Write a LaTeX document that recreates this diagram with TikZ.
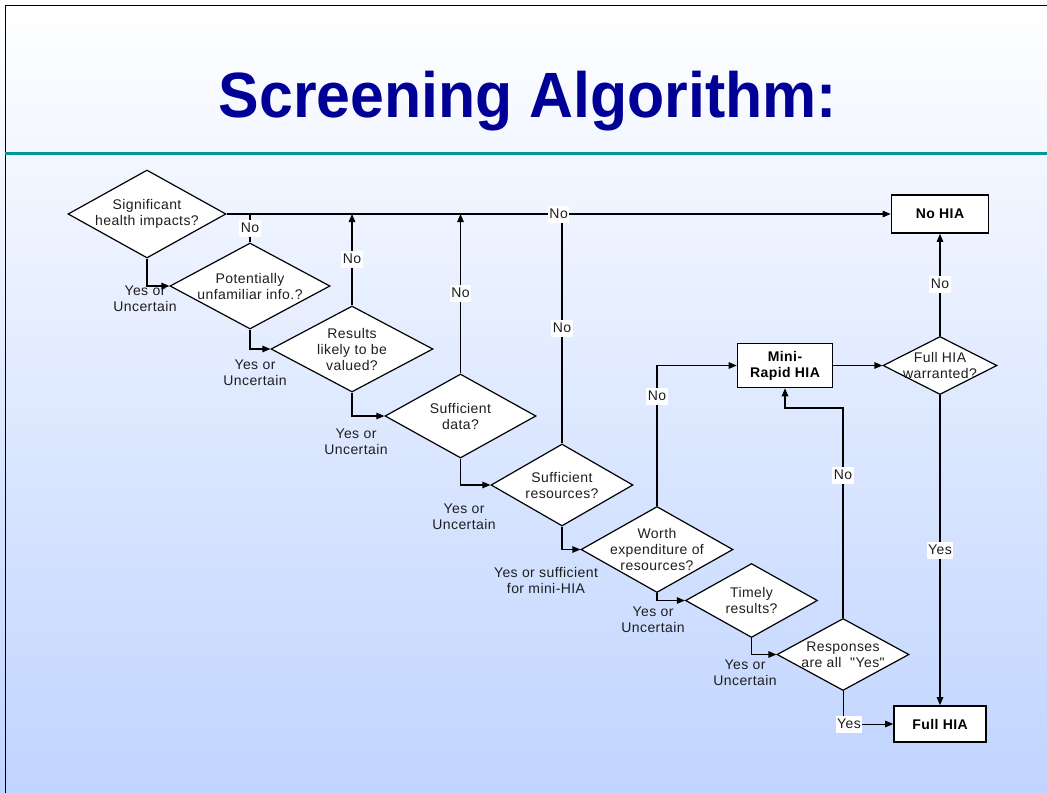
\documentclass[tikz,border=0pt]{standalone}
\usepackage{graphicx}
\usepackage{fontspec}
\setmainfont{Liberation Sans}
\newfontfamily\flowfont[LetterSpace=3]{Liberation Sans}
\usetikzlibrary{shapes.geometric,arrows.meta}

\definecolor{titleblue}{RGB}{0,0,150}
\definecolor{ruleteal}{RGB}{0,150,150}
\definecolor{slidemid}{RGB}{228,235,254}
\definecolor{slidebot}{RGB}{192,212,255}
\definecolor{inkgray}{RGB}{30,30,30}

\tikzset{
	question/.style={diamond, draw=black, fill=white, line width=1.2pt, inner sep=0pt},
	qtext/.style={align=center, text=inkgray, font=\flowfont\fontsize{14}{16}\selectfont},
	outcome/.style={rectangle, draw=black, fill=white, line width=1.6pt, inner sep=0pt, align=center,
		font=\flowfont\fontsize{14}{16}\selectfont\bfseries},
	link/.style={draw=black, line width=1.2pt, -{Triangle[length=8pt,width=6.5pt]}},
	plain/.style={draw=black, line width=1.2pt},
	answer/.style={fill=white, inner sep=1.5pt, text height=11pt, text depth=3pt, text=inkgray,
		font=\flowfont\fontsize{14}{16}\selectfont},
	branch/.style={align=center, text=inkgray, font=\flowfont\fontsize{14}{16}\selectfont}
}

\begin{document}
\begin{tikzpicture}[x=1pt, y=-1pt]
	\useasboundingbox (0,0) rectangle (1047,793);

	% slide background, frame and title
	\shade[top color=white, middle color=slidemid, bottom color=slidebot] (0,0) rectangle (1047,793);
	\draw[line width=1.5pt] (5.5,793) -- (5.5,5.5) -- (1047,5.5);
	\draw[ruleteal, line width=3pt] (5,153.5) -- (1047,153.5);
	\node[anchor=base, text=titleblue, font=\fontsize{64}{70}\selectfont\bfseries] (title) at (528,117)
		{\scalebox{0.95}[1]{Screening Algorithm:}};

	% questions
	\node[question, minimum width=158pt, minimum height=88pt,
		label={[qtext]center:Significant\\health impacts?}] (impacts) at (147,214) {};
	\node[question, minimum width=160pt, minimum height=86pt,
		label={[qtext]center:Potentially\\unfamiliar info.?}] (unfamiliar) at (250,286) {};
	\node[question, minimum width=162pt, minimum height=86pt,
		label={[qtext]center:Results\\likely to be\\valued?}] (valued) at (352,349) {};
	\node[question, minimum width=151pt, minimum height=84pt,
		label={[qtext]center:Sufficient\\data?}] (data) at (460.5,416) {};
	\node[question, minimum width=142pt, minimum height=82pt,
		label={[qtext]center:Sufficient\\resources?}] (resources) at (562,485) {};
	\node[question, minimum width=152pt, minimum height=86pt,
		label={[qtext]center:Worth\\expenditure of\\resources?}] (worth) at (657,549.5) {};
	\node[question, minimum width=132pt, minimum height=74pt,
		label={[qtext]center:Timely\\results?}] (timely) at (751.5,600.5) {};
	\node[question, minimum width=132pt, minimum height=72pt,
		label={[qtext]center:Responses\\are all~~"Yes"}] (responses) at (843,654.5) {};
	\node[question, minimum width=114pt, minimum height=58pt,
		label={[qtext]center:Full HIA\\warranted?}] (warranted) at (940,365.5) {};

	% outcomes
	\node[outcome, minimum width=97pt, minimum height=38pt] (nohia) at (940,214) {No HIA};
	\node[outcome, minimum width=95pt, minimum height=44pt] (mini) at (785,365.5) {Mini-\\Rapid HIA};
	\node[outcome, minimum width=92pt, minimum height=36pt] (fullhia) at (940,724) {Full HIA};

	% yes / uncertain branches
	\node[branch] (yes1) at (145,299) {Yes or\\Uncertain};
	\node[branch] (yes2) at (255,373) {Yes or\\Uncertain};
	\node[branch] (yes3) at (356,442) {Yes or\\Uncertain};
	\node[branch] (yes4) at (464,517) {Yes or\\Uncertain};
	\node[branch] (yes5) at (546,580) {Yes or sufficient\\for mini-HIA};
	\node[branch] (yes6) at (653,620) {Yes or\\Uncertain};
	\node[branch] (yes7) at (745,672.5) {Yes or\\Uncertain};

	\draw[link] (impacts.south) |- (unfamiliar.west);
	\draw[link] (unfamiliar.south) |- (valued.west);
	\draw[link] (valued.south) |- (data.west);
	\draw[link] (data.south) |- (resources.west);
	\draw[link] (resources.south) |- (worth.west);
	\draw[link] (worth.south) |- (timely.west);
	\draw[link] (timely.south) |- (responses.west);

	% no branches up to the top line
	\draw[plain] (unfamiliar.north) -- node[answer, midway] {No} (unfamiliar.north |- impacts.east);
	\draw[link] (valued.north) -- node[answer, midway] {No} (valued.north |- impacts.east);
	\draw[link] (data.north) -- node[answer, midway] {No} (data.north |- impacts.east);
	\draw[link] (resources.north) -- node[answer, midway] {No} (resources.north |- impacts.east);
	\draw[link] (impacts.east) -- node[answer, midway] {No} (nohia.west);

	% mini-rapid HIA and the last steps
	\coordinate (bend) at (843,408);
	\draw[link] (worth.north) |- node[answer, pos=0.39] {No} (mini.west);
	\draw[link] (responses.north) -- node[answer, pos=0.68] {No} (bend) -| (mini.south);
	\draw[link] (mini.east) -- (warranted.west);
	\draw[link] (warranted.north) -- node[answer, midway] {No} (nohia.south);
	\draw[link] (warranted.south) -- node[answer, midway] {Yes} (fullhia.north);
	\draw[link, line width=1pt] (responses.south) |- node[answer, pos=0.56] {Yes} (fullhia.west);
\end{tikzpicture}
\end{document}
